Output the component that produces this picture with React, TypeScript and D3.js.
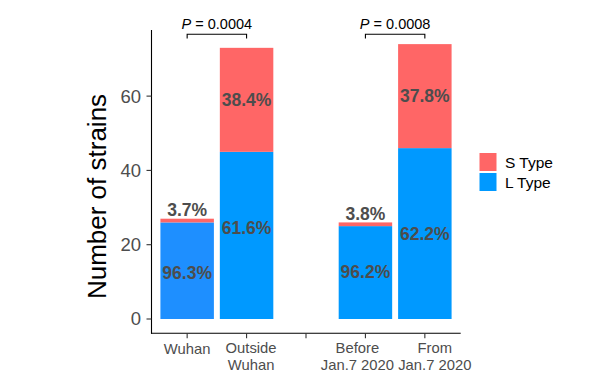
import React from "react";
import * as d3 from "d3";

const categories = ["Wuhan", "Outside\nWuhan", "", "Before\nJan.7 2020", "From\nJan.7 2020"];
const lType = [26, 45, null, 25, 46];
const sType = [1, 28, null, 1, 28];
const lPct = ["96.3%", "61.6%", "", "96.2%", "62.2%"];
const sPct = ["3.7%", "38.4%", "", "3.8%", "37.8%"];
const lLabelAt = [12.5, 24.7, null, 12.6, 22.9];
const sLabelInside = [false, true, false, false, true];
const lColors = ["#1E8FFF", "#0099FF", "#0099FF", "#0099FF", "#0099FF"];
const yTicks = [0, 20, 40, 60];
const pValues = [
  { from: 0, to: 1, text: "0.0004" },
  { from: 3, to: 4, text: "0.0008" },
];
const legendItems = [
  { label: "S Type", color: "#FF6666" },
  { label: "L Type", color: "#0099FF" },
];

const W = 600;
const H = 384;
const FONT = "'Liberation Sans', Arial, Helvetica, sans-serif";

export default function App() {
  const x = d3
    .scaleBand<number>()
    .domain(categories.map((_, i) => i))
    .range([151.5, 460.5])
    .paddingInner(0.1)
    .paddingOuter(0.15);
  const y = d3.scaleLinear().domain([-3.85, 77.8]).range([333.3, 30]);
  const bw = x.bandwidth();
  const cx = (i: number) => (x(i) as number) + bw / 2;
  // small horizontal nudges of the tick labels, as in the reference
  const labelDx = [0, 4.5, 0, -8, 10];

  return (
    <svg
      width={W}
      height={H}
      style={{ position: "absolute", left: 0, top: 0, background: "#fff" }}
      fontFamily={FONT}
    >
      <rect width={W} height={H} fill="#fff" />
      {/* bars */}
      {categories.map((_, i) => {
        const l = lType[i];
        const s = sType[i];
        if (l == null || s == null) return null;
        const x0 = x(i) as number;
        return (
          <g key={"b" + i}>
            <rect x={x0} y={y(l)} width={bw} height={y(0) - y(l)} fill={lColors[i]} />
            <rect x={x0} y={y(l + s)} width={bw} height={y(l) - y(l + s)} fill="#FF6666" />
          </g>
        );
      })}
      {/* percentage labels */}
      {categories.map((_, i) => {
        const l = lType[i];
        const s = sType[i];
        if (l == null || s == null) return null;
        const sy = sLabelInside[i] ? y(l + s / 2) + 6.3 : y(l + s) - 2.5;
        return (
          <g key={"t" + i} fontWeight="bold" fontSize={17.5} fill="#4D4D4D" textAnchor="middle">
            <text x={cx(i)} y={y(lLabelAt[i] as number) + 6.3}>{lPct[i]}</text>
            <text x={cx(i)} y={sy}>{sPct[i]}</text>
          </g>
        );
      })}
      {/* axes */}
      <line x1={151.5} x2={151.5} y1={30} y2={333.8} stroke="#000" strokeWidth={1.1} />
      <line x1={151} x2={460.7} y1={333.3} y2={333.3} stroke="#000" strokeWidth={1.1} />
      {yTicks.map((t) => (
        <g key={"yt" + t}>
          <line x1={146.5} x2={151.5} y1={y(t)} y2={y(t)} stroke="#333" strokeWidth={1.1} />
          <text x={141} y={y(t)} dy="0.35em" textAnchor="end" fontSize={18.5} fill="#4D4D4D">
            {t}
          </text>
        </g>
      ))}
      {categories.map((c, i) => (
        <g key={"xt" + i}>
          <line x1={cx(i)} x2={cx(i)} y1={333.3} y2={338.3} stroke="#333" strokeWidth={1.1} />
          {c.split("\n").map((ln, k) => (
            <text
              key={k}
              x={cx(i) + labelDx[i]}
              y={(c.includes("\n") ? 352.5 : 354) + k * 17.7}
              textAnchor="middle"
              fontSize={14.8}
              fill="#4D4D4D"
            >
              {ln}
            </text>
          ))}
        </g>
      ))}
      {/* y title */}
      <text
        transform={`translate(106,196.5) rotate(-90)`}
        textAnchor="middle"
        fontSize={26}
        fill="#000"
      >
        Number of strains
      </text>
      {/* p-value brackets */}
      {pValues.map((p, k) => {
        const a = cx(p.from);
        const b = cx(p.to);
        return (
          <g key={"p" + k}>
            <path
              d={`M${a},38.5V34.3H${b}V38.5`}
              fill="none"
              stroke="#000"
              strokeWidth={1.1}
            />
            <text x={(a + b) / 2} y={29} textAnchor="middle" fontSize={14.5} fill="#000">
              <tspan fontStyle="italic">P</tspan>
              {" = " + p.text}
            </text>
          </g>
        );
      })}
      {/* legend */}
      {legendItems.map((it, k) => (
        <g key={"lg" + k}>
          <rect x={479.5} y={153 + k * 20} width={17} height={18} fill={it.color} />
          <text x={505} y={168 + k * 20} fontSize={15.5} fill="#000">
            {it.label}
          </text>
        </g>
      ))}
    </svg>
  );
}
